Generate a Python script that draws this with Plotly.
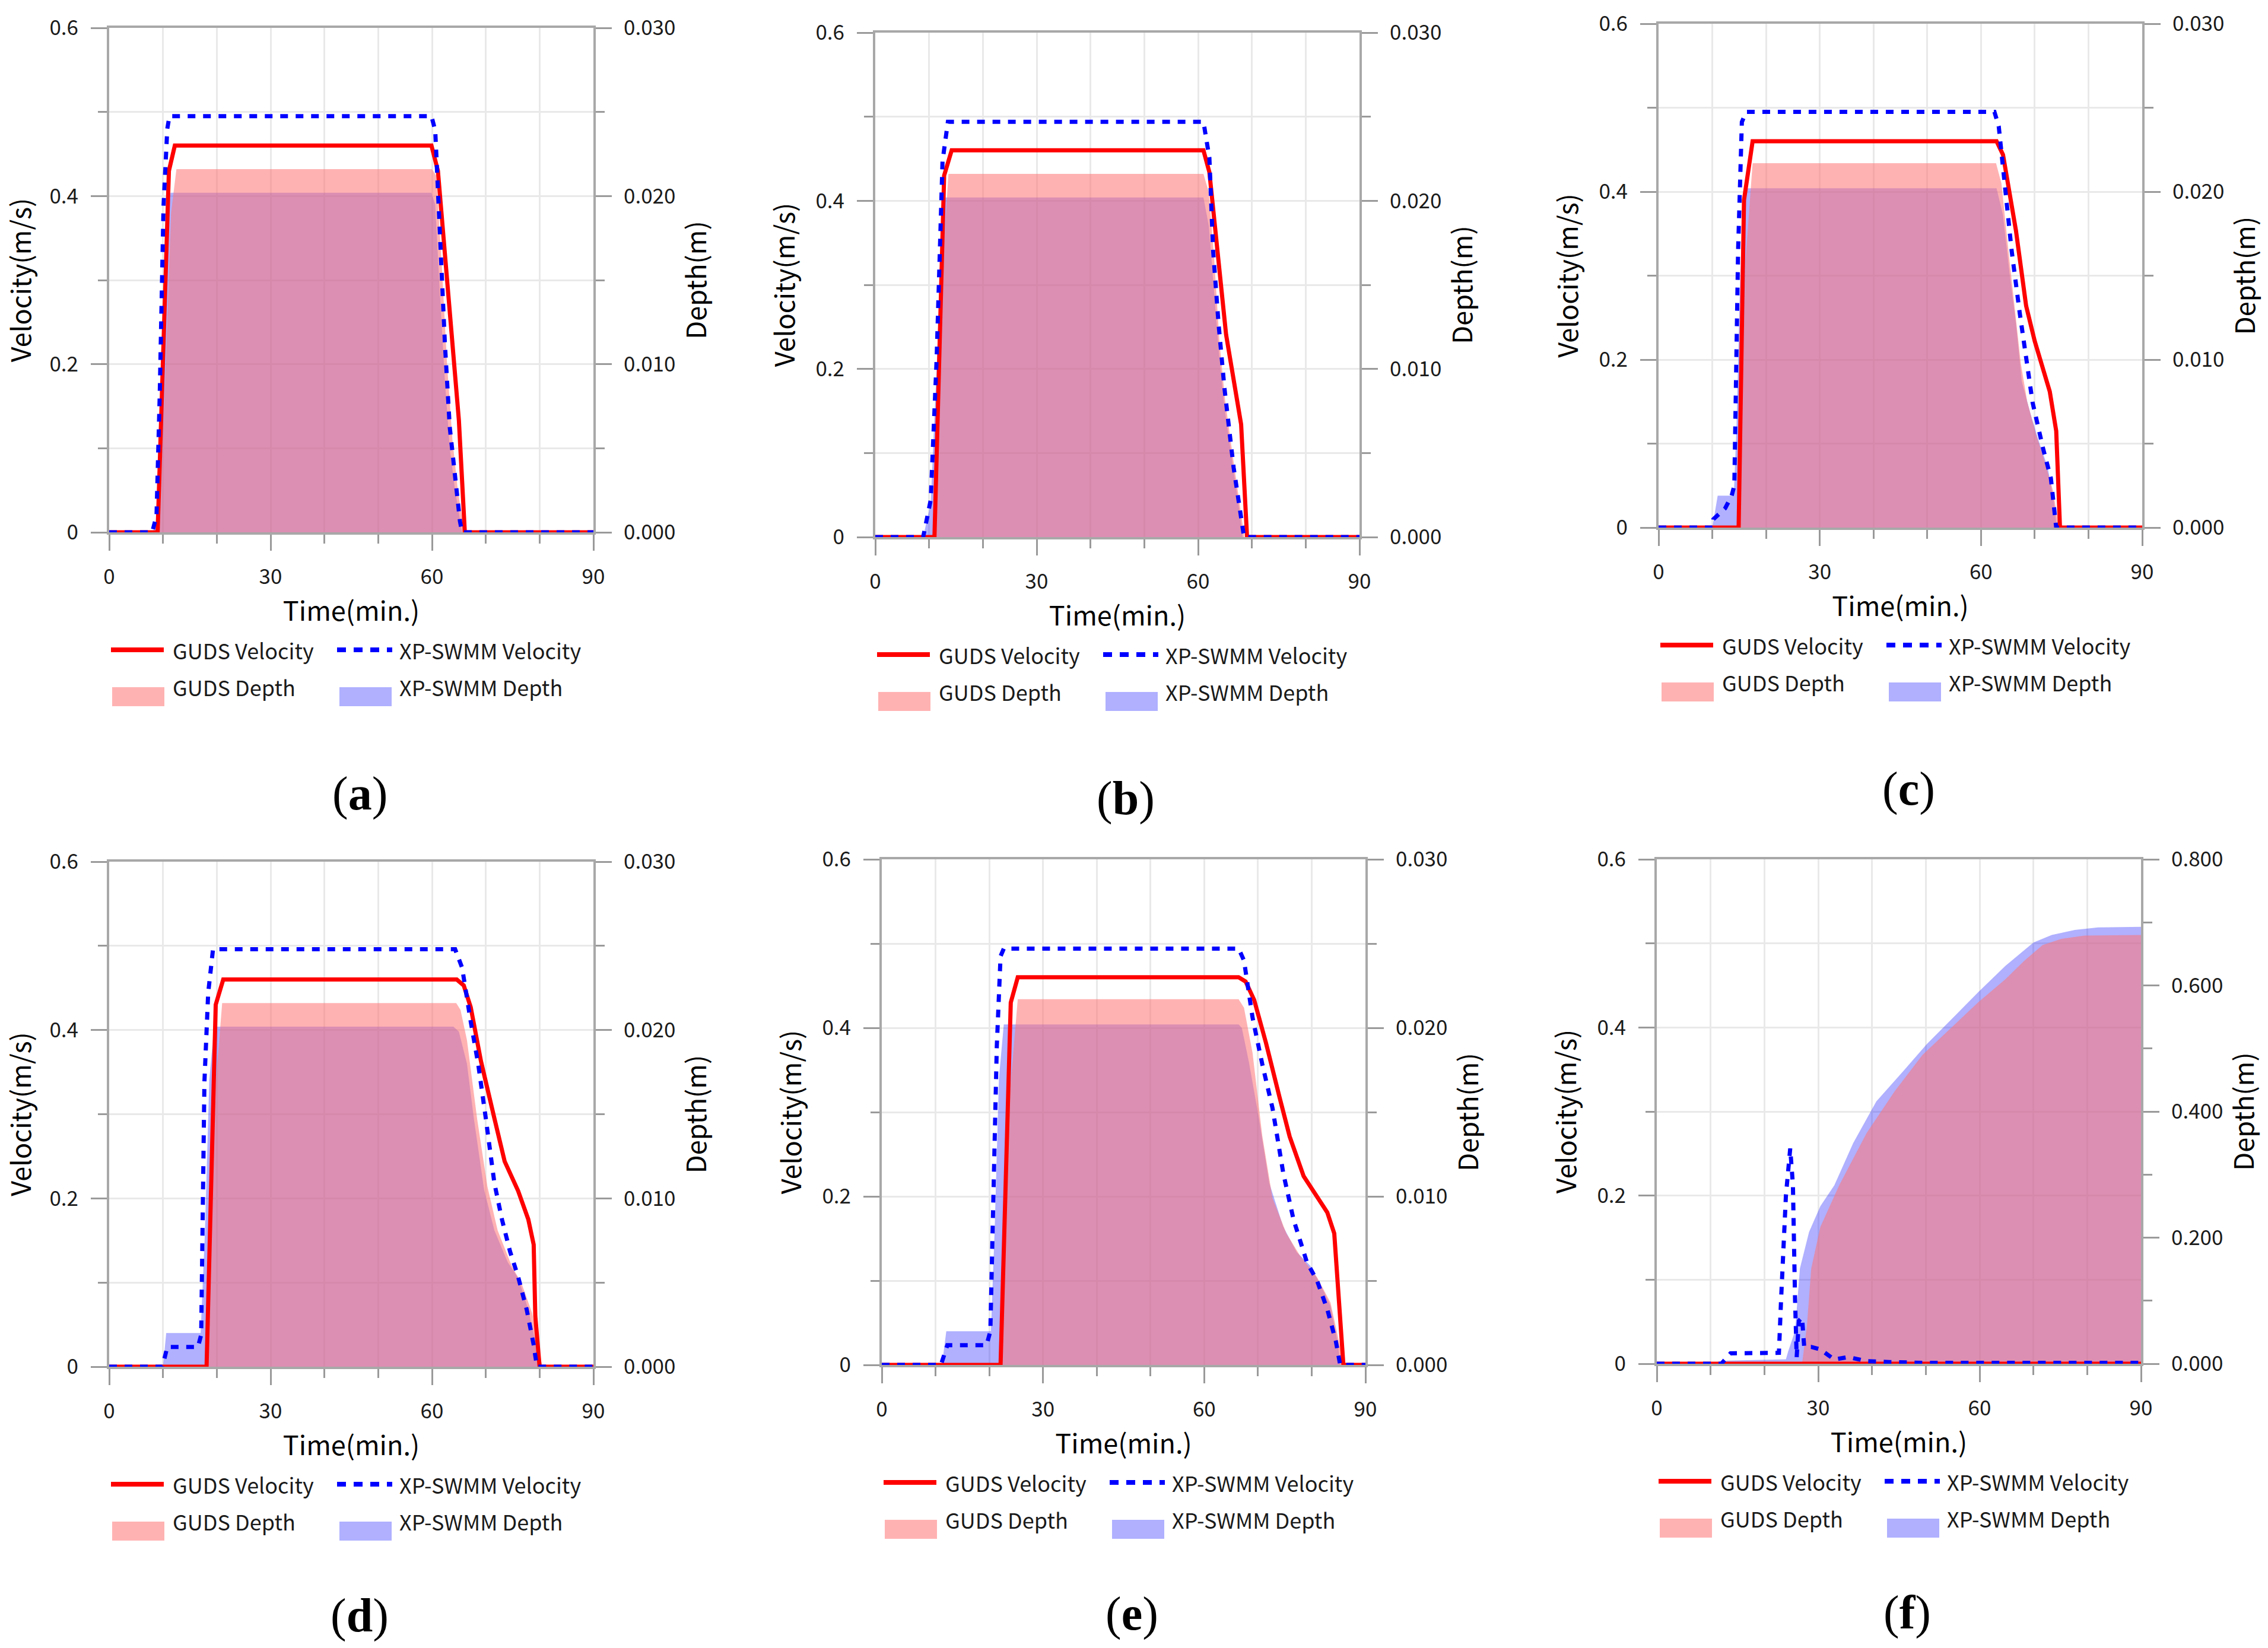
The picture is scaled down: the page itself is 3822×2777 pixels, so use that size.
import plotly.graph_objects as go

W, H = 3822, 2777

# ---- data (time in min, velocity in m/s, depth in m) ----
# (a)
t_gv_a = [0, 9.0, 11.1, 12.2, 59.9, 61.1, 65.0, 66.1, 90]
gv_a = [0, 0, 0.43, 0.46, 0.46, 0.43, 0.133, 0, 0]
t_xv_a = [0, 8.0, 8.8, 9.4, 10.1, 10.8, 11.2, 59.9, 60.6, 61.5, 62.4, 63.3, 64.3, 65.2, 65.6, 90]
xv_a = [0, 0, 0.02, 0.165, 0.388, 0.48, 0.495, 0.495, 0.478, 0.34, 0.224, 0.125, 0.06, 0.013, 0, 0]
t_gd_a = [0, 9.2, 10.5, 11.5, 12.5, 60.0, 60.8, 61.8, 62.8, 63.8, 64.8, 66.0, 90]
gd_a = [0, 0, 0.01, 0.019, 0.0216, 0.0216, 0.0212, 0.016, 0.01, 0.0055, 0.0025, 0, 0]
t_xd_a = [0, 8.0, 8.8, 9.6, 10.6, 11.4, 59.9, 60.6, 61.5, 62.4, 63.3, 64.3, 65.6, 90]
xd_a = [0, 0, 0.0005, 0.008, 0.018, 0.0202, 0.0202, 0.0195, 0.014, 0.009, 0.005, 0.0025, 0, 0]

# (b)
t_gv_b = [0, 11.0, 12.8, 14.2, 61.0, 62.1, 65.2, 68.0, 69.1, 90]
gv_b = [0, 0, 0.43, 0.46, 0.46, 0.434, 0.241, 0.134, 0, 0]
t_xv_b = [0, 8.9, 10.3, 11.4, 12.5, 13.5, 61.0, 62.1, 62.8, 63.8, 64.9, 66.6, 68.4, 68.6, 90]
xv_b = [0, 0, 0.044, 0.211, 0.447, 0.494, 0.494, 0.451, 0.34, 0.254, 0.177, 0.083, 0.006, 0, 0]
t_gd_b = [0, 11.0, 12.3, 13.6, 61.0, 62.0, 63.0, 64.0, 65.0, 66.5, 67.5, 68.6, 90]
gd_b = [0, 0, 0.015, 0.0216, 0.0216, 0.0205, 0.0165, 0.0115, 0.0082, 0.0047, 0.0025, 0, 0]
t_xd_b = [0, 8.9, 10.3, 11.4, 12.6, 61.0, 62.0, 63.0, 64.0, 65.0, 66.5, 67.5, 68.3, 90]
xd_b = [0, 0, 0.002, 0.01, 0.0202, 0.0202, 0.0185, 0.0145, 0.0105, 0.0075, 0.0042, 0.002, 0, 0]

# (c)
t_gv_c = [0, 14.9, 15.9, 17.5, 62.9, 64.1, 66.5, 68.4, 70.0, 72.8, 74.0, 74.7, 90]
gv_c = [0, 0, 0.39, 0.46, 0.46, 0.444, 0.354, 0.264, 0.222, 0.162, 0.115, 0, 0]
t_xv_c = [0, 10.0, 10.2, 12.4, 13.6, 14.1, 14.8, 15.5, 16.3, 62.5, 63.3, 64.5, 65.7, 67.2, 68.4, 69.6, 71.6, 73.0, 74.0, 90]
xv_c = [0, 0, 0.01, 0.023, 0.038, 0.05, 0.33, 0.483, 0.495, 0.495, 0.478, 0.40, 0.33, 0.256, 0.2, 0.149, 0.093, 0.059, 0, 0]
t_gd_c = [0, 15.0, 16.2, 17.5, 62.8, 63.8, 65.0, 66.2, 67.4, 68.6, 70.2, 71.8, 73.4, 74.5, 90]
gd_c = [0, 0, 0.016, 0.0217, 0.0217, 0.0205, 0.0168, 0.0133, 0.0098, 0.0075, 0.0056, 0.004, 0.0022, 0, 0]
t_xd_c = [0, 10.0, 11.0, 14.0, 14.5, 15.2, 16.0, 62.9, 64.1, 65.3, 66.5, 67.6, 69.2, 70.8, 72.4, 73.6, 74.1, 90]
xd_c = [0, 0, 0.0019, 0.0019, 0.006, 0.015, 0.0202, 0.0202, 0.0186, 0.0152, 0.0122, 0.0087, 0.0068, 0.0051, 0.0036, 0.0015, 0, 0]

# (d)
t_gv_d = [0, 18.1, 19.8, 21.2, 64.6, 65.9, 67.2, 69.1, 71.6, 73.5, 76.0, 77.9, 78.9, 79.2, 80.0, 90]
gv_d = [0, 0, 0.43, 0.46, 0.46, 0.453, 0.427, 0.363, 0.295, 0.244, 0.209, 0.175, 0.145, 0.06, 0, 0]
t_xv_d = [0, 9.9, 10.8, 16.5, 17.1, 17.7, 18.4, 19.3, 64.3, 65.6, 67.2, 68.6, 70.0, 71.6, 73.0, 74.5, 76.0, 77.6, 78.9, 79.5, 90]
xv_d = [0, 0, 0.0235, 0.0235, 0.038, 0.338, 0.444, 0.496, 0.496, 0.474, 0.41, 0.359, 0.295, 0.218, 0.175, 0.137, 0.107, 0.068, 0.026, 0, 0]
t_gd_d = [0, 18.3, 19.6, 21.0, 64.5, 65.3, 66.5, 68.4, 70.3, 72.2, 74.8, 76.7, 78.6, 80.5, 90]
gd_d = [0, 0, 0.016, 0.0216, 0.0216, 0.0212, 0.0194, 0.0147, 0.0107, 0.0081, 0.006, 0.0049, 0.0032, 0, 0]
t_xd_d = [0, 10.0, 10.6, 17.0, 17.8, 18.6, 19.5, 64.0, 65.0, 66.5, 67.8, 69.7, 71.6, 74.1, 76.0, 77.9, 79.2, 79.8, 90]
xd_d = [0, 0, 0.002, 0.002, 0.008, 0.017, 0.0202, 0.0202, 0.0199, 0.018, 0.0147, 0.0105, 0.0081, 0.0062, 0.0053, 0.0034, 0.0015, 0, 0]

# (e)
t_gv_e = [0, 22.1, 24.0, 25.3, 66.4, 67.7, 69.3, 71.5, 74.0, 75.9, 78.5, 81.0, 82.9, 84.2, 84.8, 85.4, 85.9, 90]
gv_e = [0, 0, 0.43, 0.46, 0.46, 0.455, 0.433, 0.382, 0.318, 0.271, 0.224, 0.199, 0.181, 0.156, 0.1, 0.045, 0, 0]
t_xv_e = [0, 11.0, 12.2, 19.5, 20.2, 20.8, 21.4, 22.1, 22.7, 66.4, 67.4, 69.0, 70.8, 72.7, 74.7, 76.6, 79.1, 81.0, 82.9, 84.5, 85.3, 90]
xv_e = [0, 0, 0.0235, 0.0235, 0.04, 0.207, 0.378, 0.485, 0.494, 0.494, 0.48, 0.412, 0.357, 0.305, 0.228, 0.173, 0.122, 0.1, 0.066, 0.028, 0, 0]
t_gd_e = [0, 22.3, 23.8, 25.3, 66.4, 67.4, 69.0, 70.8, 72.7, 75.3, 77.8, 81.0, 83.5, 84.8, 86.0, 90]
gd_e = [0, 0, 0.016, 0.0217, 0.0217, 0.0212, 0.0185, 0.0136, 0.0099, 0.0078, 0.0065, 0.0052, 0.0037, 0.0018, 0, 0]
t_xd_e = [0, 11.2, 12.0, 20.3, 21.0, 21.8, 22.7, 66.4, 67.0, 68.3, 70.2, 72.1, 74.7, 77.2, 79.7, 81.6, 83.5, 84.8, 85.4, 90]
xd_e = [0, 0, 0.002, 0.002, 0.008, 0.017, 0.0202, 0.0202, 0.02, 0.018, 0.0146, 0.0108, 0.0082, 0.0067, 0.0059, 0.0048, 0.0035, 0.0014, 0, 0]

# (f)
t_gv_f = [0, 90]
gv_f = [0, 0]
t_xv_f = [0, 12.0, 13.7, 22.7, 23.1, 24.0, 24.8, 25.3, 25.7, 26.0, 26.4, 27.0, 27.4, 28.7, 30.4, 33.0, 35.6, 39.0, 43.3, 50.0, 90]
xv_f = [0, 0, 0.0124, 0.013, 0.076, 0.2, 0.256, 0.213, 0.076, 0.008, 0.051, 0.055, 0.02, 0.02, 0.017, 0.005, 0.008, 0.003, 0.002, 0.001, 0.001]
t_gd_f = [0, 27.0, 27.9, 28.7, 30.4, 33.9, 39.0, 44.2, 49.4, 54.5, 59.7, 64.8, 68.3, 71.7, 75.2, 79.5, 90]
gd_f = [0, 0, 0.06, 0.151, 0.217, 0.283, 0.366, 0.432, 0.49, 0.531, 0.573, 0.61, 0.639, 0.664, 0.674, 0.679, 0.68]
t_xd_f = [0, 12.0, 13.0, 24.0, 24.4, 25.7, 26.6, 28.3, 30.4, 33.0, 36.5, 40.8, 45.9, 50.2, 54.5, 59.7, 64.8, 70.0, 73.4, 77.7, 82.0, 90]
xd_f = [0, 0, 0.005, 0.007, 0.019, 0.052, 0.151, 0.209, 0.25, 0.283, 0.35, 0.416, 0.465, 0.507, 0.544, 0.589, 0.631, 0.668, 0.68, 0.688, 0.692, 0.693]

panels = [
    ('a', t_gv_a, gv_a, t_xv_a, xv_a, t_gd_a, gd_a, t_xd_a, xd_a),
    ('b', t_gv_b, gv_b, t_xv_b, xv_b, t_gd_b, gd_b, t_xd_b, xd_b),
    ('c', t_gv_c, gv_c, t_xv_c, xv_c, t_gd_c, gd_c, t_xd_c, xd_c),
    ('d', t_gv_d, gv_d, t_xv_d, xv_d, t_gd_d, gd_d, t_xd_d, xd_d),
    ('e', t_gv_e, gv_e, t_xv_e, xv_e, t_gd_e, gd_e, t_xd_e, xd_e),
    ('f', t_gv_f, gv_f, t_xv_f, xv_f, t_gd_f, gd_f, t_xd_f, xd_f),
]
depth_max = [0.03, 0.03, 0.03, 0.03, 0.03, 0.8]
depth_dtick = [0.01, 0.01, 0.01, 0.01, 0.01, 0.2]
series_names = ['GUDS Velocity', 'XP-SWMM Velocity', 'GUDS Depth', 'XP-SWMM Depth']

# plot-area boxes in pixels (left, right, top, bottom) and label offset below each box
boxes = [(184, 1000, 47, 897), (1475, 2291, 55, 905), (2795, 3610, 40, 889),
         (184, 1000, 1452, 2303), (1486, 2301, 1448, 2300), (2792, 3608, 1448, 2298)]
label_gap = [440, 440, 440, 419, 419, 419]

RED = '#ff0000'
BLUE = '#0000ff'
PINK_FILL = 'rgba(255,118,118,0.56)'
BLUE_FILL = 'rgba(0,0,255,0.31)'
PINK_KEY = 'rgb(255,178,178)'
BLUE_KEY = 'rgb(176,176,255)'
FONT = 'Noto Sans CJK KR, Noto Sans, sans-serif'
GRID = '#e9e9e9'
LINE = '#a8a8a8'
TICK = '#9a9a9a'


def px(x):
    return x / W


def py(y):
    return 1 - y / H


fig = go.Figure()
shapes = []
annotations = []

for i, (lab, tgv, gv, txv, xv, tgd, gd, txd, xd) in enumerate(panels):
    n = i + 1
    xa = 'x' if n == 1 else f'x{n}'
    yd = f'y{2 * n - 1}' if n > 1 else 'y'
    yv = f'y{2 * n}'

    # depth (base axis, right side) - fills
    fig.add_trace(go.Scatter(x=txd, y=xd, name=series_names[3], mode='none', fill='tozeroy',
                             fillcolor=BLUE_FILL, xaxis=xa, yaxis=yd, showlegend=False))
    fig.add_trace(go.Scatter(x=tgd, y=gd, name=series_names[2], mode='none', fill='tozeroy',
                             fillcolor=PINK_FILL, xaxis=xa, yaxis=yd, showlegend=False))
    # velocity (overlay axis, left side) - lines
    fig.add_trace(go.Scatter(x=tgv, y=gv, name=series_names[0], mode='lines',
                             line=dict(color=RED, width=7), xaxis=xa, yaxis=yv, showlegend=False))
    fig.add_trace(go.Scatter(x=txv, y=xv, name=series_names[1], mode='lines',
                             line=dict(color=BLUE, width=7, dash='13px,13px'),
                             xaxis=xa, yaxis=yv, showlegend=False))

    L, R, T, B = boxes[i]
    xdom = [px(L), px(R)]
    ydom = [py(B), py(T)]
    tickfont = dict(family=FONT, size=35, color='#1a1a1a')
    titlefont = dict(family=FONT, size=45, color='#000000')
    minor_common = dict(ticks='outside', ticklen=15, tickwidth=3, tickcolor=TICK,
                        showgrid=True, gridcolor=GRID, gridwidth=3)

    xkey = 'xaxis' if n == 1 else f'xaxis{n}'
    fig.layout[xkey] = dict(
        domain=xdom, anchor=yd, range=[0, 90], dtick=30, tick0=0, automargin=False,
        showline=True, mirror=True, linecolor=LINE, linewidth=4,
        ticks='outside', ticklen=27, tickwidth=3, tickcolor=TICK,
        showgrid=True, gridcolor=GRID, gridwidth=3, zeroline=False,
        minor=dict(dtick=10, **minor_common),
        tickfont=tickfont, ticklabelstandoff=14,
        title=dict(text='Time(min.)', font=titlefont, standoff=22),
    )
    dkey = 'yaxis' if n == 1 else f'yaxis{2 * n - 1}'
    fig.layout[dkey] = dict(
        domain=ydom, anchor=xa, side='right', range=[0, depth_max[i]], automargin=False,
        dtick=depth_dtick[i], tick0=0, tickformat='.3f',
        showline=True, linecolor=LINE, linewidth=4,
        ticks='outside', ticklen=27, tickwidth=3, tickcolor=TICK,
        showgrid=False, zeroline=False,
        minor=dict(dtick=depth_dtick[i] / 2, ticks='outside', ticklen=15, tickwidth=3,
                   tickcolor=TICK, showgrid=False),
        tickfont=tickfont, ticklabelstandoff=13,
        title=dict(text='Depth(m)', font=titlefont, standoff=22),
    )
    vkey = f'yaxis{2 * n}'
    fig.layout[vkey] = dict(
        domain=ydom, anchor=xa, overlaying=yd, side='left', range=[0, 0.6], automargin=False,
        dtick=0.2, tick0=0,
        showline=True, linecolor=LINE, linewidth=4,
        ticks='outside', ticklen=27, tickwidth=3, tickcolor=TICK,
        showgrid=True, gridcolor=GRID, gridwidth=3, zeroline=False,
        minor=dict(dtick=0.1, **minor_common),
        tickfont=tickfont, ticklabelstandoff=14,
        title=dict(text='Velocity(m/s)', font=titlefont, standoff=22),
    )

    # hand-drawn key below each panel (two rows, two columns)
    r1 = B + 198
    r2 = B + 260
    shapes.append(dict(type='line', xref='paper', yref='paper', x0=px(L + 3), x1=px(L + 92),
                       y0=py(r1), y1=py(r1), line=dict(color=RED, width=8)))
    shapes.append(dict(type='line', xref='paper', yref='paper', x0=px(L + 384), x1=px(L + 477),
                       y0=py(r1), y1=py(r1), line=dict(color=BLUE, width=8, dash='15px,13px')))
    shapes.append(dict(type='rect', xref='paper', yref='paper', x0=px(L + 5), x1=px(L + 93),
                       y0=py(B + 293), y1=py(B + 261), fillcolor=PINK_KEY, line=dict(width=0)))
    shapes.append(dict(type='rect', xref='paper', yref='paper', x0=px(L + 388), x1=px(L + 476),
                       y0=py(B + 293), y1=py(B + 261), fillcolor=BLUE_KEY, line=dict(width=0)))
    for name, xx, yy in [(series_names[0], L + 105, r1), (series_names[1], L + 487, r1),
                         (series_names[2], L + 105, r2), (series_names[3], L + 487, r2)]:
        annotations.append(dict(text=name, xref='paper', yref='paper', x=px(xx), y=py(yy),
                                xanchor='left', yanchor='middle', showarrow=False,
                                font=dict(family=FONT, size=36, color='#1a1a1a')))
    # panel label
    annotations.append(dict(text=f'(<b>{lab}</b>)', xref='paper', yref='paper',
                            x=px((L + R) / 2 + 14), y=py(B + label_gap[i]), xanchor='center',
                            yanchor='middle', showarrow=False,
                            font=dict(family='Liberation Serif, Times New Roman, serif',
                                      size=80, color='#000000')))

fig.update_layout(
    width=W, height=H,
    margin=dict(l=0, r=0, t=0, b=0, autoexpand=False),
    paper_bgcolor='white', plot_bgcolor='white',
    showlegend=False,
    shapes=shapes, annotations=annotations,
)

# drop the browser's default body margin so the figure sits exactly in the window
fig.write_html('out.html', config={'displayModeBar': False},
               post_script="document.body.style.margin='0';document.body.style.overflow='hidden';")
